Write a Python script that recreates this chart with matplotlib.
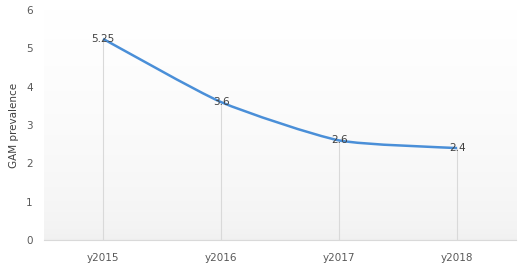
import numpy as np
import matplotlib.pyplot as plt
from matplotlib.path import Path
from matplotlib.patches import PathPatch

years = ['y2015', 'y2016', 'y2017', 'y2018']
gam = [5.25, 3.6, 2.6, 2.4]
labels = ['5.25', '3.6', '2.6', '2.4']

plt.rcParams['font.family'] = ['DejaVu Sans']

fig = plt.figure(figsize=(5.24, 2.65), dpi=100)
ax = fig.add_axes([0.084, 0.094, 0.901, 0.868])

x = np.arange(len(years))
ax.set_xlim(-0.5, len(years) - 0.5)
ax.set_ylim(0, 6)

# faint vertical gradient behind the plot
t = np.linspace(0, 1, 256)
grad = (0.94 + 0.06 * np.sqrt(t)).reshape(-1, 1)
ax.imshow(np.dstack([grad, grad, grad]), extent=[-0.5, 3.5, 0, 6],
          aspect='auto', origin='lower', zorder=0)

# drop lines
ax.vlines(x, 0, gam, color='#d9d9d9', linewidth=0.8, zorder=1)

# lightly smoothed line
pts = np.column_stack([x, gam]).astype(float)
verts = [tuple(pts[0])]
codes = [Path.MOVETO]
k = 1 / 10.0
for i in range(len(pts) - 1):
    p0 = pts[i - 1] if i > 0 else pts[i]
    p1 = pts[i]
    p2 = pts[i + 1]
    p3 = pts[i + 2] if i + 2 < len(pts) else pts[i + 1]
    c1 = p1 + (p2 - p0) * k
    c2 = p2 - (p3 - p1) * k
    verts += [tuple(c1), tuple(c2), tuple(p2)]
    codes += [Path.CURVE4] * 3
ax.add_patch(PathPatch(Path(verts, codes), facecolor='none',
                       edgecolor='#4a8fd8', linewidth=1.8, zorder=3))

for xi, yi, lab in zip(x, gam, labels):
    ax.text(xi, yi, lab, ha='center', va='center', fontsize=7.5,
            color='#404040', zorder=4)

ax.set_xticks(x)
ax.set_xticklabels(years)
ax.set_yticks(range(0, 7))
ax.tick_params(length=0, labelsize=7.5, colors='#595959')
ax.tick_params(axis='x', pad=9)
ax.tick_params(axis='y', pad=8)
for s in ['top', 'right', 'left']:
    ax.spines[s].set_visible(False)
ax.spines['bottom'].set_color('#d9d9d9')
ax.set_ylabel('GAM prevalence', fontsize=7.5, color='#404040', labelpad=5)

fig.savefig('out.png', dpi=100)
